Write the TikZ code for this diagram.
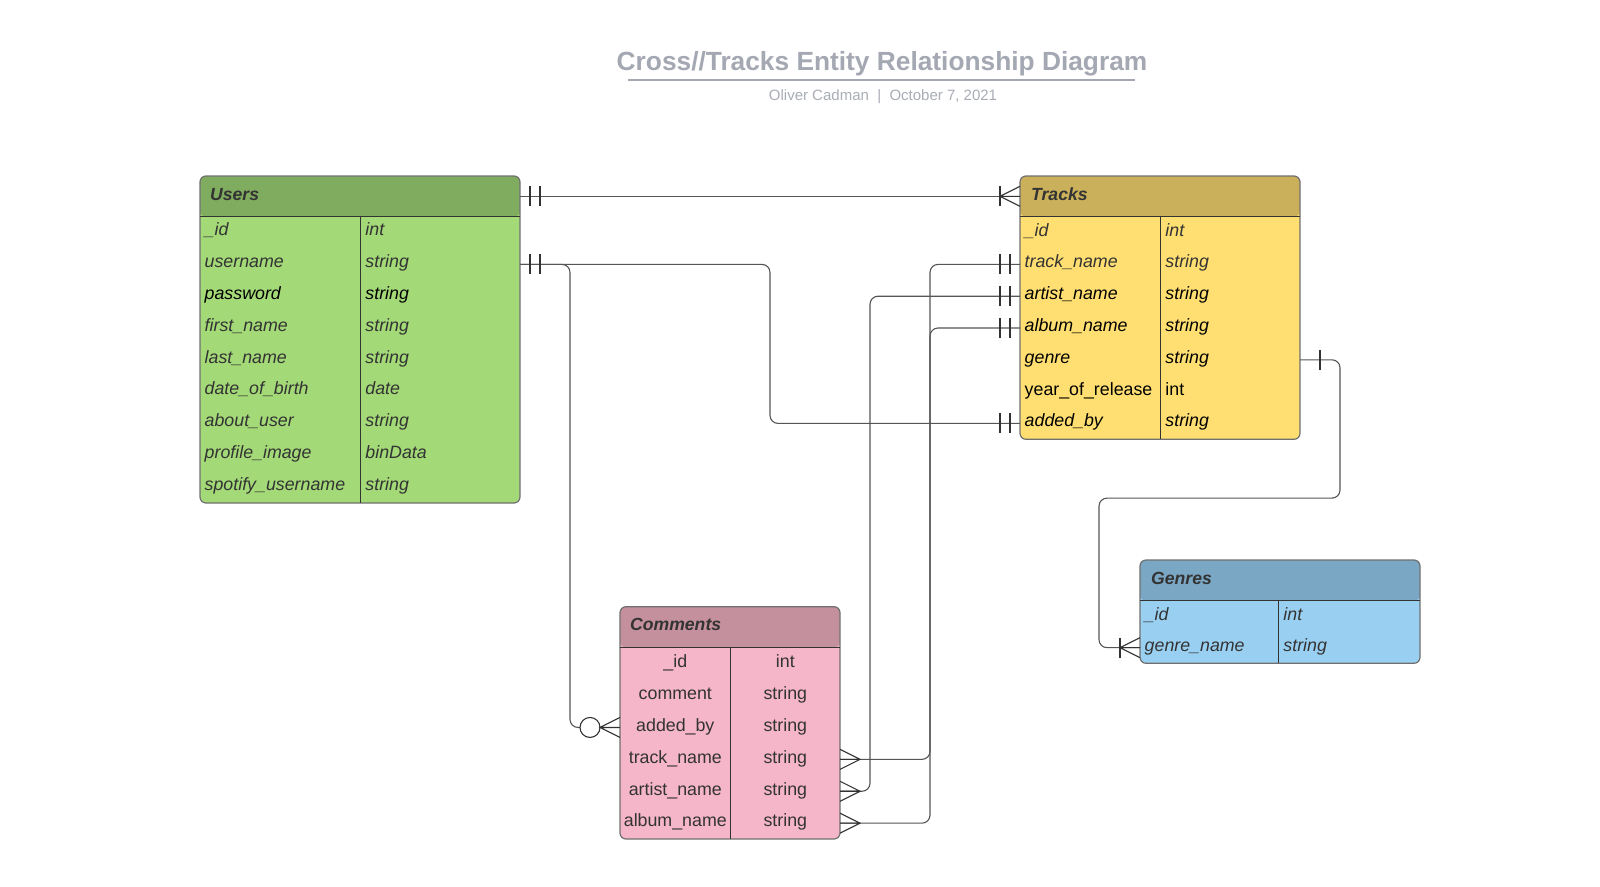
\documentclass[tikz,border=0pt]{standalone}
\usepackage{fontspec}
\setmainfont{Liberation Sans}
\definecolor{uH}{HTML}{7FAC5F}
\definecolor{uB}{HTML}{A3D977}
\definecolor{tH}{HTML}{CAB05B}
\definecolor{tB}{HTML}{FFDF71}
\definecolor{cH}{HTML}{C4909E}
\definecolor{cB}{HTML}{F4B6C8}
\definecolor{gH}{HTML}{7AA7C3}
\definecolor{gB}{HTML}{99D0F2}
\definecolor{tg}{HTML}{333333}
\definecolor{bord}{HTML}{707070}
\definecolor{titlegray}{HTML}{A4A8B2}
\definecolor{subgray}{HTML}{A9ADB5}
\definecolor{lineg}{HTML}{555555}
\begin{document}
\begin{tikzpicture}[x=1pt,y=-1pt,
  tbl/.style 2 args={draw=bord, line width=1.2pt, rounded corners=6pt, fill=#1, inner sep=0pt, outer sep=0pt, anchor=north west,
     path picture={\fill[#2] (path picture bounding box.north west) rectangle ([yshift=-40.7pt]path picture bounding box.north east);}},
  rowbox/.style={inner sep=0pt, outer sep=0pt, anchor=west, minimum height=31.8pt},
  hdrbox/.style={inner sep=0pt, outer sep=0pt, anchor=north west, minimum height=40.7pt},
  txt/.style={inner sep=0pt, font=\fontsize{17.8}{20}\selectfont},
  hdrtxt/.style={inner sep=0pt, anchor=base west, text=tg, font=\fontsize{17.6}{20}\selectfont\bfseries\itshape},
  innerline/.style={draw=tg, line width=1.1pt},
  conn/.style={draw=lineg, line width=1.1pt, rounded corners=8pt},
  mk/.style={draw=tg, line width=1.1pt},
  onebar/.pic={\draw[mk] (0,-10) -- (0,10);},
  crowL/.pic={\draw[mk] (20,-10) -- (0,0) -- (20,10) (0,0) -- (20,0);},
  crowR/.pic={\draw[mk] (-20,-10) -- (0,0) -- (-20,10) (0,0) -- (-20,0);},
]
\fill[white] (0,0) rectangle (1600,886);
\useasboundingbox (0,0) rectangle (1600,886);

% Title
\node[anchor=base, text=titlegray, inner sep=0pt, font=\fontsize{26.3}{30}\selectfont\bfseries] (title) at (882,70.7) {Cross//Tracks Entity Relationship Diagram};
\draw[titlegray, line width=1.5pt] (628.3,80) -- (1134.6,80);
\node[anchor=base, text=subgray, inner sep=0pt, font=\fontsize{15}{18}\selectfont] (subtitle) at (883,100) {Oliver Cadman\ \ |\ \ October 7, 2021};

% Users
\node[tbl={uB}{uH}, minimum width=320pt, minimum height=327pt] (users) at (200,176) {};
\node[hdrbox, minimum width=320pt] (uh) at (200,176) {};
\node[hdrtxt] (uh-t) at (210,200) {Users};
\draw[innerline] (uh.south west) -- (uh.south east);
\draw[innerline] (360.7,216.7) -- (360.7,503);
\foreach \fa/\fb/\fc [count=\i, evaluate=\i as \yc using 216.7+(\i-0.5)*31.8] in
  {\_id/int/tg, username/string/tg, password/string/black, first\_name/string/tg, last\_name/string/tg,
   date\_of\_birth/date/tg, about\_user/string/tg, profile\_image/binData/tg, spotify\_username/string/tg}{
  \node[rowbox, minimum width=320pt] (u\i) at (200,\yc) {};
  \node[txt, anchor=base west, text=\fc] (u\i-n) at (204.5,{\yc+3.3}) {\itshape\fa};
  \node[txt, anchor=base west, text=\fc] (u\i-t) at (365.2,{\yc+3.3}) {\itshape\fb};
}

% Tracks
\node[tbl={tB}{tH}, minimum width=280pt, minimum height=263.3pt] (tracks) at (1020,176) {};
\node[hdrbox, minimum width=280pt] (th) at (1020,176) {};
\node[hdrtxt] (th-t) at (1031,200) {Tracks};
\draw[innerline] (th.south west) -- (th.south east);
\draw[innerline] (1160.7,216.7) -- (1160.7,439.3);
\foreach \fa/\fb/\fc/\fs [count=\i, evaluate=\i as \yc using 216.7+(\i-0.5)*31.8] in
  {\_id/int/tg/\itshape, track\_name/string/tg/\itshape, artist\_name/string/black/\itshape,
   album\_name/string/black/\itshape, genre/string/black/\itshape, year\_of\_release/int/black/\upshape,
   added\_by/string/black/\itshape}{
  \node[rowbox, minimum width=280pt] (t\i) at (1020,\yc) {};
  \node[txt, anchor=base west, text=\fc] (t\i-n) at (1024.5,{\yc+3.5}) {\fs\fa};
  \node[txt, anchor=base west, text=\fc] (t\i-t) at (1165.2,{\yc+3.5}) {\fs\fb};
}

% Comments
\node[tbl={cB}{cH}, minimum width=220pt, minimum height=232.3pt] (comments) at (620,606.7) {};
\node[hdrbox, minimum width=220pt, minimum height=41pt] (ch) at (620,606.7) {};
\node[hdrtxt] (ch-t) at (630,630.5) {Comments};
\draw[innerline] (ch.south west) -- (ch.south east);
\draw[innerline] (730.7,647.7) -- (730.7,839);
\foreach \fa/\fb [count=\i, evaluate=\i as \yc using 647.7+(\i-0.5)*31.9] in
  {\_id/int, comment/string, added\_by/string, track\_name/string, artist\_name/string, album\_name/string}{
  \node[rowbox, minimum width=220pt, minimum height=31.9pt] (c\i) at (620,\yc) {};
  \node[txt, anchor=base, text=tg] (c\i-n) at (675.3,{\yc+3.8}) {\fa};
  \node[txt, anchor=base, text=tg] (c\i-t) at (785.3,{\yc+3.8}) {\fb};
}

% Genres
\node[tbl={gB}{gH}, minimum width=280pt, minimum height=103.3pt] (genres) at (1140,560) {};
\node[hdrbox, minimum width=280pt] (gh) at (1140,560) {};
\node[hdrtxt] (gh-t) at (1151,584) {Genres};
\draw[innerline] (gh.south west) -- (gh.south east);
\draw[innerline] (1278.7,600.7) -- (1278.7,663.3);
\foreach \fa/\fb [count=\i, evaluate=\i as \yc using 600.7+(\i-0.5)*31.3] in
  {\_id/int, genre\_name/string}{
  \node[rowbox, minimum width=280pt, minimum height=31.3pt] (g\i) at (1140,\yc) {};
  \node[txt, anchor=base west, text=tg] (g\i-n) at (1144.5,{\yc+3.8}) {\itshape\fa};
  \node[txt, anchor=base west, text=tg] (g\i-t) at (1283.2,{\yc+3.8}) {\itshape\fb};
}

% Connectors
% Users header -- Tracks header
\draw[conn] (uh.east) -- (th.west);
\pic at ([xshift=10pt]uh.east) {onebar};
\pic at ([xshift=20pt]uh.east) {onebar};
\pic at ([xshift=-20pt]th.west) {onebar};
\pic at ([xshift=-20pt]th.west) {crowL};

% Users username -- Comments added_by
\draw[conn] (u2.east) -- ++(50,0) |- ([xshift=-40pt]c3.west);
\draw[mk, fill=white] ([xshift=-30pt]c3.west) circle[radius=10pt];
\pic at ([xshift=-20pt]c3.west) {crowL};
% Users username -- Tracks added_by
\draw[conn] (u2.east) -- ++(250,0) |- (t7.west);
\pic at ([xshift=10pt]u2.east) {onebar};
\pic at ([xshift=20pt]u2.east) {onebar};
\pic at ([xshift=-20pt]t7.west) {onebar};
\pic at ([xshift=-10pt]t7.west) {onebar};

% Tracks track_name -- Comments track_name
\draw[conn] (t2.west) -- ++(-90,0) |- (c4.east);
\pic at ([xshift=-20pt]t2.west) {onebar};
\pic at ([xshift=-10pt]t2.west) {onebar};
\pic at ([xshift=20pt]c4.east) {crowR};
% Tracks artist_name -- Comments artist_name
\draw[conn] (t3.west) -- ++(-150,0) |- (c5.east);
\pic at ([xshift=-20pt]t3.west) {onebar};
\pic at ([xshift=-10pt]t3.west) {onebar};
\pic at ([xshift=20pt]c5.east) {crowR};
% Tracks album_name -- Comments album_name
\draw[conn] (t4.west) -- ++(-90,0) |- (c6.east);
\pic at ([xshift=-20pt]t4.west) {onebar};
\pic at ([xshift=-10pt]t4.west) {onebar};
\pic at ([xshift=20pt]c6.east) {crowR};

% Tracks genre -- Genres genre_name
\draw[conn] (t5.east) -- ++(40,0) -- ++(0,138.3) -- ++(-241,0) |- (g2.west);
\pic at ([xshift=20pt]t5.east) {onebar};
\pic at ([xshift=-20pt]g2.west) {onebar};
\pic at ([xshift=-20pt]g2.west) {crowL};
\end{tikzpicture}
\end{document}
